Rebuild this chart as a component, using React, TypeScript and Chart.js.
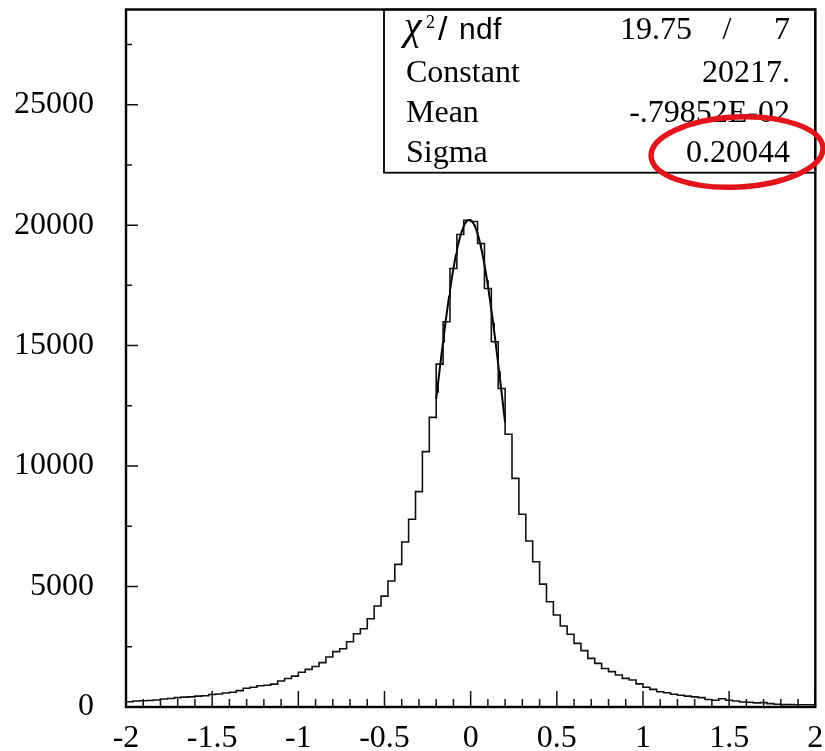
import { useEffect, useRef } from "react";
import { Chart, registerables } from "chart.js";

Chart.register(...registerables);

// Histogram binning: 100 bins of width 0.04 on [-2, 2]
const BIN_MIN = -2;
const BIN_WIDTH = 0.04;

// Entries per bin
const COUNTS = [
  220, 250, 260, 270, 290, 330, 350, 390, 410, 420,
  450, 470, 520, 540, 580, 610, 680, 780, 820, 880,
  900, 950, 1080, 1180, 1280, 1440, 1560, 1680, 1840, 2075,
  2300, 2420, 2710, 3040, 3250, 3665, 4190, 4600, 5230, 5920,
  6850, 7790, 8940, 10600, 12020, 14230, 15990, 18200, 19610, 20200,
  20150, 19240, 17370, 15160, 13220, 11320, 9490, 8000, 6890, 6030,
  5100, 4370, 3820, 3360, 3020, 2640, 2340, 2020, 1810, 1600,
  1470, 1330, 1190, 1120, 960, 820, 730, 630, 590, 530,
  490, 450, 420, 390, 310, 280, 340, 280, 250, 210,
  200, 170, 180, 140, 115, 100, 100, 95, 95, 95,
];

// Axis ticks
const X_TICKS = [-2, -1.5, -1, -0.5, 0, 0.5, 1, 1.5, 2];
const X_MINOR_STEP = 0.1;
const Y_TICKS = [0, 5000, 10000, 15000, 20000, 25000];
const Y_MINOR_STEP = 2500;
const Y_MAX = 28950;

// Gaussian fit result
const FIT_CHI2 = "19.75";
const FIT_NDF = "7";
const FIT_CONSTANT = 20217;
const FIT_MEAN = -0.79852e-2;
const FIT_SIGMA = 0.20044;
const FIT_RANGE = [-0.2, 0.2];
const FIT_SAMPLES = 80;

const STAT_LABELS = ["Constant", "Mean", "Sigma"];
const STAT_VALUES = ["20217.", "-.79852E-02", "0.20044"];

const SERIF = '"Liberation Serif", "Times New Roman", serif';
const SANS = '"Liberation Sans", Arial, sans-serif';

function histogramPoints() {
  const pts = COUNTS.map((c, i) => ({ x: BIN_MIN + i * BIN_WIDTH, y: c }));
  pts.push({ x: BIN_MIN + COUNTS.length * BIN_WIDTH, y: COUNTS[COUNTS.length - 1] });
  return pts;
}

function fitPoints() {
  const pts = [];
  const [lo, hi] = FIT_RANGE;
  for (let k = 0; k <= FIT_SAMPLES; k++) {
    const x = lo + ((hi - lo) * k) / FIT_SAMPLES;
    const z = (x - FIT_MEAN) / FIT_SIGMA;
    pts.push({ x, y: FIT_CONSTANT * Math.exp(-0.5 * z * z) });
  }
  return pts;
}

// Keep tick-label overhang from shrinking the plot area
function noLabelPadding(s: any) {
  s.paddingLeft = 0;
  s.paddingRight = 0;
  s.paddingTop = 0;
  s.paddingBottom = 0;
}

const framePlugin = {
  id: "frameAndStats",
  afterDraw(chart: any) {
    const { ctx, chartArea: a, scales } = chart;
    const xs = scales.x;
    const ys = scales.y;
    ctx.save();

    // inward tick marks
    ctx.strokeStyle = "#111";
    ctx.lineWidth = 1.5;
    ctx.beginPath();
    const nX = Math.round((X_TICKS[X_TICKS.length - 1] - X_TICKS[0]) / X_MINOR_STEP);
    for (let k = 0; k <= nX; k++) {
      const v = X_TICKS[0] + k * X_MINOR_STEP;
      const major = X_TICKS.some((t) => Math.abs(t - v) < 1e-6);
      const px = xs.getPixelForValue(v);
      ctx.moveTo(px, a.bottom);
      ctx.lineTo(px, a.bottom - (major ? 16 : 8));
    }
    for (let v = 0; v <= Y_MAX; v += Y_MINOR_STEP) {
      const major = Y_TICKS.includes(v);
      const py = ys.getPixelForValue(v);
      ctx.moveTo(a.left, py);
      ctx.lineTo(a.left + (major ? 12 : 6), py);
    }
    ctx.stroke();

    // plot frame
    ctx.strokeStyle = "#000";
    ctx.lineWidth = 2.4;
    ctx.strokeRect(a.left, a.top, a.right - a.left, a.bottom - a.top);

    // statistics box
    const boxLeft = 384;
    const boxBottom = 172.7;
    ctx.lineWidth = 1.8;
    ctx.strokeRect(boxLeft, a.top, a.right - boxLeft, boxBottom - a.top);

    ctx.fillStyle = "#000";
    ctx.textBaseline = "alphabetic";
    const labelX = 406;
    const valueX = 790;
    const rowY = [39, 81.5, 121.7, 161.7];

    ctx.textAlign = "left";
    ctx.font = `italic 40px ${SERIF}`;
    ctx.fillText("χ", labelX - 2, rowY[0]);
    ctx.font = `18px ${SERIF}`;
    ctx.fillText("2", 426, 28);
    ctx.font = `34px ${SANS}`;
    ctx.fillText("/", 438, rowY[0] + 1);
    ctx.font = `30px ${SANS}`;
    ctx.fillText("n", 459, rowY[0]);
    ctx.fillText("d", 476, rowY[0]);
    ctx.fillText("f", 493, rowY[0]);

    ctx.font = `32px ${SERIF}`;
    ctx.textAlign = "right";
    ctx.fillText(FIT_CHI2, 692, rowY[0]);
    ctx.fillText(FIT_NDF, valueX, rowY[0]);
    ctx.textAlign = "center";
    ctx.fillText("/", 727, rowY[0]);

    STAT_LABELS.forEach((lab, i) => {
      ctx.textAlign = "left";
      ctx.fillText(lab, labelX, rowY[i + 1]);
      ctx.textAlign = "right";
      ctx.fillText(STAT_VALUES[i], valueX, rowY[i + 1]);
    });

    // red highlight around the sigma value
    ctx.strokeStyle = "#e3141b";
    ctx.lineWidth = 5.5;
    ctx.beginPath();
    ctx.ellipse(737, 152, 86, 35, -0.05, 0, Math.PI * 2);
    ctx.stroke();

    ctx.restore();
  },
};

export default function App() {
  const canvasRef = useRef<HTMLCanvasElement | null>(null);

  useEffect(() => {
    const canvas = canvasRef.current;
    if (!canvas) return;
    const chart = new Chart(canvas, {
      type: "line",
      data: {
        datasets: [
          {
            label: "histogram",
            data: histogramPoints(),
            stepped: "before",
            borderColor: "#111",
            borderWidth: 1.6,
            pointRadius: 0,
            fill: false,
          },
          {
            label: "gaus",
            data: fitPoints(),
            borderColor: "#000",
            borderWidth: 2,
            pointRadius: 0,
            fill: false,
            tension: 0,
          },
        ],
      },
      options: {
        animation: false,
        responsive: false,
        events: [],
        layout: { autoPadding: false, padding: { left: 0, top: 9.5, right: 9.7, bottom: 0 } },
        plugins: {
          legend: { display: false },
          tooltip: { enabled: false },
          title: { display: false },
        },
        scales: {
          x: {
            type: "linear",
            min: X_TICKS[0],
            max: X_TICKS[X_TICKS.length - 1],
            grid: { display: false, drawTicks: false },
            border: { display: false },
            afterBuildTicks: (s: any) => {
              s.ticks = X_TICKS.map((v) => ({ value: v }));
            },
            afterFit: (s: any) => {
              s.height = 44;
              noLabelPadding(s);
            },
            ticks: {
              autoSkip: false,
              maxRotation: 0,
              padding: 15.5,
              color: "#000",
              font: { family: SERIF, size: 32, lineHeight: 1 },
              callback: (v: any) => String(v),
            },
          },
          y: {
            type: "linear",
            min: 0,
            max: Y_MAX,
            grid: { display: false, drawTicks: false },
            border: { display: false },
            afterBuildTicks: (s: any) => {
              s.ticks = Y_TICKS.map((v) => ({ value: v }));
            },
            afterFit: (s: any) => {
              s.width = 126;
              noLabelPadding(s);
            },
            ticks: {
              padding: 32,
              color: "#000",
              font: { family: SERIF, size: 32, lineHeight: 1 },
              callback: (v: any) => String(v),
            },
          },
        },
      },
      plugins: [framePlugin],
    });
    return () => chart.destroy();
  }, []);

  return (
    <div style={{ position: "absolute", left: 0, top: 0, width: 825, height: 751, background: "#fff" }}>
      <canvas ref={canvasRef} width={825} height={751} style={{ width: 825, height: 751, display: "block" }} />
    </div>
  );
}
